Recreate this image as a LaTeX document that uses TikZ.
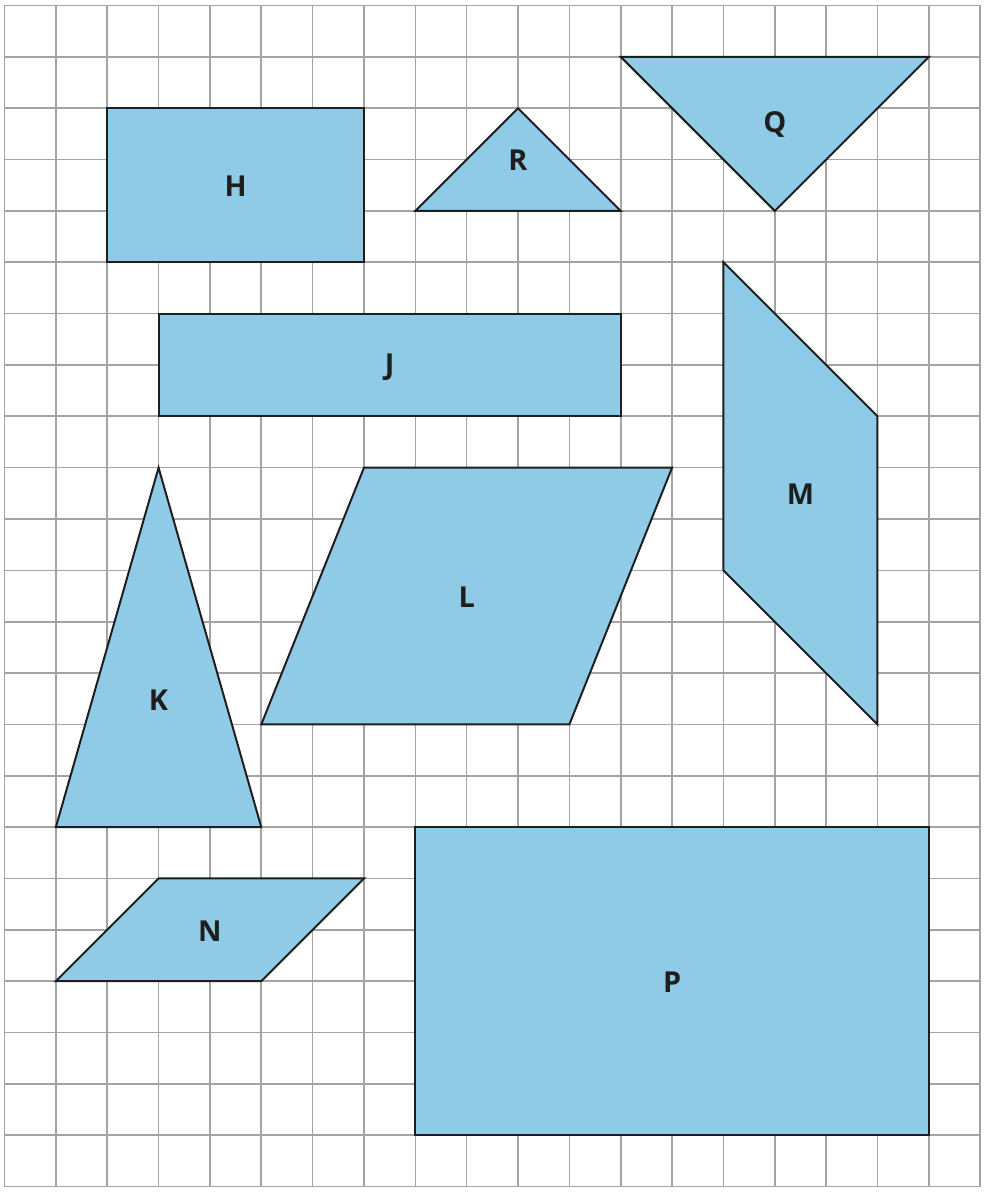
\documentclass[tikz,border=0pt]{standalone}
\usepackage{fontspec}
\setmainfont{Open Sans}
\definecolor{shapefill}{HTML}{8FCBE6}
\definecolor{gridgray}{HTML}{A4A4A4}
\definecolor{edge}{HTML}{1E1E1E}
\begin{document}
\begin{tikzpicture}[y=-1cm,
  figshape/.style={fill=shapefill, draw=edge, line width=1.1pt, line join=miter},
  lbl/.style={font=\bfseries\fontsize{16}{18}\selectfont, text=edge, inner sep=0pt}]
\useasboundingbox (-0.088,-0.107) rectangle (19.192,23.145);
\fill[white] (-0.088,-0.107) rectangle (19.192,23.145);
\draw[gridgray, line width=0.9pt] (0,0) grid (19,23);
% H
\draw[figshape] (2,2) rectangle (7,5);
\node[lbl] (H) at (4.5,3.52) {H};
% R
\draw[figshape] (8,4) -- (10,2) -- (12,4) -- cycle;
\node[lbl] (R) at (10,3.02) {R};
% Q
\draw[figshape] (12,1) -- (18,1) -- (15,4) -- cycle;
\node[lbl] (Q) at (15,2.32) {Q};
% J
\draw[figshape] (3,6) rectangle (12,8);
\node[lbl] (J) at (7.5,7.05) {J};
% M
\draw[figshape] (14,5) -- (17,8) -- (17,14) -- (14,11) -- cycle;
\node[lbl] (M) at (15.5,9.52) {M};
% K
\draw[figshape] (1,16) -- (3,9) -- (5,16) -- cycle;
\node[lbl] (K) at (3,13.52) {K};
% L
\draw[figshape] (7,9) -- (13,9) -- (11,14) -- (5,14) -- cycle;
\node[lbl] (L) at (9,11.52) {L};
% N
\draw[figshape] (1,19) -- (3,17) -- (7,17) -- (5,19) -- cycle;
\node[lbl] (N) at (4,18.02) {N};
% P
\draw[figshape] (8,16) rectangle (18,22);
\node[lbl] (P) at (13,19.02) {P};
\end{tikzpicture}
\end{document}
